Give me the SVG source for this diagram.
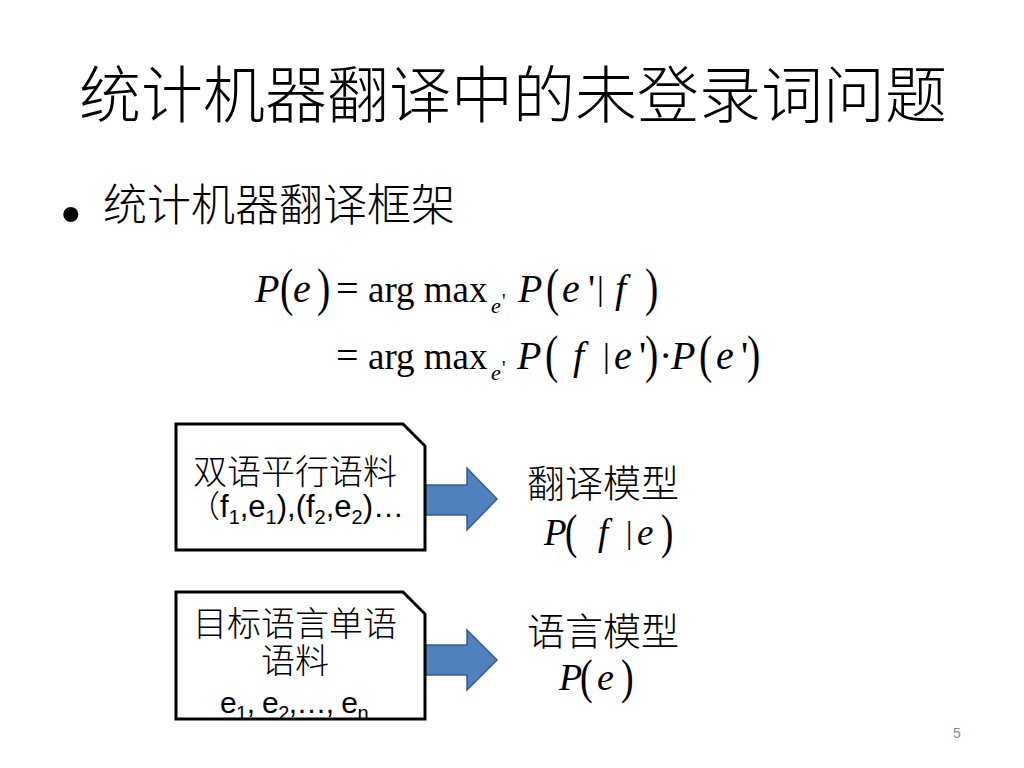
<svg xmlns="http://www.w3.org/2000/svg" width="1024" height="768" viewBox="0 0 1024 768">
<style>
.cjk{font-family:"Noto Sans CJK SC","Noto Sans",sans-serif;fill:#000}
.lat{font-family:"Liberation Sans","Noto Sans CJK SC",sans-serif;fill:#000}
.m{font-family:"Liberation Serif",serif;fill:#000}
.i{font-style:italic}
.box{fill:#fff;stroke:#000;stroke-width:3}
.arr{fill:#4F81BD;stroke:#385D8A;stroke-width:1.5}
</style>
<rect width="1024" height="768" fill="#fff"/>
<text class="cjk" x="513" y="118" font-size="62" text-anchor="middle" font-weight="300">统计机器翻译中的未登录词问题</text>
<text class="lat" x="61" y="233" font-size="56">•</text>
<text class="cjk" x="103" y="221" font-size="44" font-weight="300">统计机器翻译框架</text>

<g id="formula">
<g font-size="40">
<text class="m i" x="255" y="302">P</text>
<text class="m" transform="translate(280,305) scale(1,1.33)">(</text>
<text class="m i" x="293" y="302">e</text>
<text class="m" transform="translate(317,305) scale(1,1.33)">)</text>
<text class="m" x="336" y="302">=</text>
<text class="m" x="368" y="302" font-size="37">arg max</text>
<text class="m i" x="491" y="313" font-size="22">e</text>
<text class="m" x="502" y="308" font-size="20">'</text>
<text class="m i" x="518" y="302">P</text>
<text class="m" transform="translate(546,305) scale(1,1.33)">(</text>
<text class="m i" x="562" y="302">e</text>
<text class="m" x="588" y="302">'</text>
<text class="m" x="597" y="300" font-size="34">|</text>
<text class="m i" x="615" y="302">f</text>
<text class="m" transform="translate(645,305) scale(1,1.33)">)</text>

<text class="m" x="336" y="369">=</text>
<text class="m" x="368" y="369" font-size="37">arg max</text>
<text class="m i" x="491" y="380" font-size="22">e</text>
<text class="m" x="502" y="375" font-size="20">'</text>
<text class="m i" x="517" y="369">P</text>
<text class="m" transform="translate(545,372) scale(1,1.33)">(</text>
<text class="m i" x="573" y="369">f</text>
<text class="m" x="603" y="367" font-size="34">|</text>
<text class="m i" x="614" y="369">e</text>
<text class="m" x="639" y="369">'</text>
<text class="m" transform="translate(645,372) scale(1,1.33)">)</text>
<text class="m" x="659" y="369">·</text>
<text class="m i" x="671" y="369">P</text>
<text class="m" transform="translate(699,372) scale(1,1.33)">(</text>
<text class="m i" x="716" y="369">e</text>
<text class="m" x="741" y="369">'</text>
<text class="m" transform="translate(747,372) scale(1,1.33)">)</text>
</g>
</g>

<g id="connectors">
<polygon class="arr" points="425,485 467,485 467,468 497,499 467,530 467,515 425,515"/>
<polygon class="arr" points="425,645 467,645 467,630 497,660 467,690 467,675 425,675"/>
</g>

<g id="parallel-corpus">
<path class="box" d="M176,424 H403 L425,446 V550 H176 Z"/>
<text class="cjk" x="295" y="484" font-size="34" text-anchor="middle" font-weight="300">双语平行语料</text>
<text class="lat" x="189" y="517" font-size="31"><tspan class="cjk" font-weight="300">（</tspan>f<tspan font-size="20" dy="7">1</tspan><tspan dy="-7">,e</tspan><tspan font-size="20" dy="7">1</tspan><tspan dy="-7">),(f</tspan><tspan font-size="20" dy="7">2</tspan><tspan dy="-7">,e</tspan><tspan font-size="20" dy="7">2</tspan><tspan dy="-7">)…</tspan></text>
</g>

<g id="mono-corpus">
<path class="box" d="M176,592 H403 L425,614 V719 H176 Z"/>
<text class="cjk" x="295" y="636" font-size="34" text-anchor="middle" font-weight="300">目标语言单语</text>
<text class="cjk" x="295" y="673" font-size="34" text-anchor="middle" font-weight="300">语料</text>
<text class="lat" x="220" y="713" font-size="30" letter-spacing="-0.6">e<tspan font-size="20" dy="7">1</tspan><tspan dy="-7">, e</tspan><tspan font-size="20" dy="7">2</tspan><tspan dy="-7">,…, e</tspan><tspan font-size="20" dy="7">n</tspan></text>
</g>

<g id="translation-model">
<text class="cjk" x="527" y="497" font-size="38" font-weight="300">翻译模型</text>
<g font-size="37">
<text class="m i" x="544" y="545">P</text>
<text class="m" transform="translate(565,548) scale(1,1.3)">(</text>
<text class="m i" x="598" y="545">f</text>
<text class="m" x="626" y="543" font-size="32">|</text>
<text class="m i" x="637" y="545">e</text>
<text class="m" transform="translate(661,548) scale(1,1.3)">)</text>
</g>
</g>

<g id="language-model">
<text class="cjk" x="527" y="645" font-size="38" font-weight="300">语言模型</text>
<g font-size="38">
<text class="m i" x="559" y="690">P</text>
<text class="m" transform="translate(580,693) scale(1,1.3)">(</text>
<text class="m i" x="597" y="690">e</text>
<text class="m" transform="translate(621,693) scale(1,1.3)">)</text>
</g>
</g>

<text class="lat" x="953" y="738" font-size="14" style="fill:#8c8c8c">5</text>
</svg>
